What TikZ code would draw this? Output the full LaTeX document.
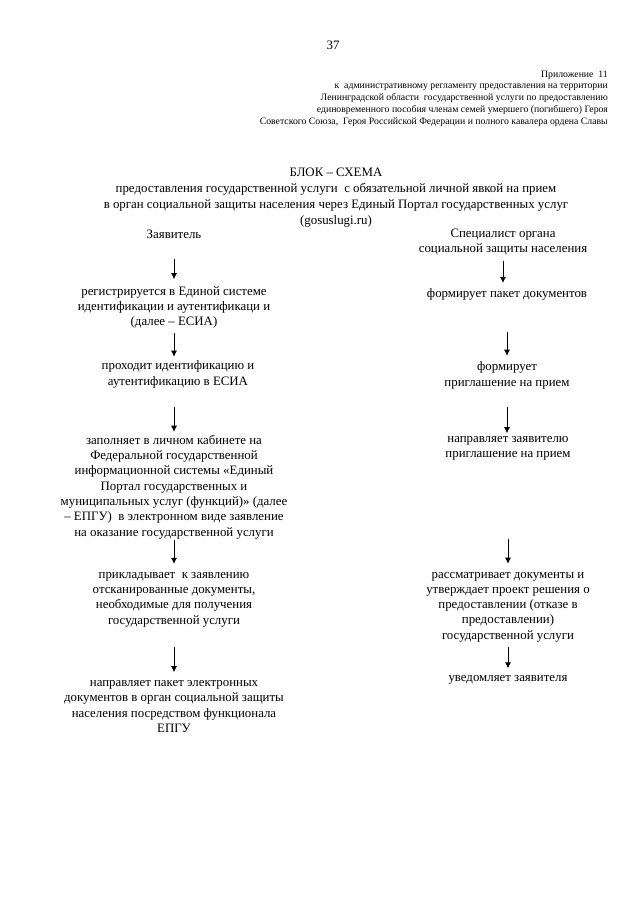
\documentclass[tikz,border=0pt]{standalone}
\usepackage{fontspec}
\setmainfont{Liberation Serif}
\usetikzlibrary{arrows.meta}
\def\px{0.328125mm}
\tikzset{
  steptext/.style={align=center,inner sep=0pt,font=\fontsize{12}{14.3}\selectfont},
  headtext/.style={align=right,inner sep=0pt,anchor=east,font=\fontsize{9.1}{10.9}\selectfont},
  flowarrow/.style={-{Latex[length=2mm,width=2mm]},line width=0.8pt}
}

\begin{document}
\begin{tikzpicture}[x=0.0328125cm,y=-0.0328125cm]
\useasboundingbox (0,0) rectangle (640,905);
\node[steptext] (pagenum) at (333,45) {37};
\node[headtext] (annex) at (608,98.5) {Приложение~ 11\\
к~ административному регламенту предоставления на территории\\
Ленинградской области~ государственной услуги по предоставлению\\
единовременного пособия членам семей умершего (погибшего) Героя\\
Советского Союза,~ Героя Российской Федерации и полного кавалера ордена Славы};
\node[steptext,font=\fontsize{12}{14.9}\selectfont] (title) at (336,198) {БЛОК – СХЕМА\\
предоставления государственной услуги~ с обязательной личной явкой на прием\\
в орган социальной защиты населения через Единый Портал государственных услуг\\
(gosuslugi.ru)};
% заявитель
\node[steptext] (zayav) at (174,234) {Заявитель};
\node[steptext] (reg) at (174,307.5) {регистрируется в Единой системе\\идентификации и аутентификаци и\\(далее – ЕСИА)};
\node[steptext] (prokh) at (178,374.5) {проходит идентификацию и\\аутентификацию в ЕСИА};
\node[steptext] (zapol) at (174,487) {заполняет в личном кабинете на\\Федеральной государственной\\информационной системы «Единый\\Портал государственных и\\муниципальных услуг (функций)» (далее\\– ЕПГУ)~ в электронном виде заявление\\на оказание государственной услуги};
\node[steptext] (prikl) at (174,599.5) {прикладывает~ к заявлению\\отсканированные документы,\\необходимые для получения\\государственной услуги};
\node[steptext] (naprl) at (174,706.5) {направляет пакет электронных\\документов в орган социальной защиты\\населения посредством функционала\\ЕПГУ};
% специалист
\node[steptext] (spec) at (503,242) {Специалист органа\\социальной защиты населения};
\node[steptext] (form1) at (507,294) {формирует пакет документов};
\node[steptext] (form2) at (507,375.5) {формирует\\приглашение на прием};
\node[steptext] (naprz) at (508,448.5) {направляет заявителю\\приглашение на прием};
\node[steptext] (rassm) at (508,607) {рассматривает документы и\\утверждает проект решения о\\предоставлении (отказе в\\предоставлении)\\государственной услуги};
\node[steptext] (uved) at (508,680) {уведомляет заявителя};
\draw[flowarrow,shorten <=20*\px,shorten >=7*\px] (zayav.south) -- (zayav.south |- reg.north);
\draw[flowarrow,shorten <=4*\px,shorten >=4*\px] (reg.south) -- (reg.south |- prokh.north);
\draw[flowarrow,shorten <=19*\px,shorten >=3*\px] (reg.south |- prokh.south) -- (reg.south |- zapol.north);
\draw[flowarrow,shorten <=1*\px,shorten >=8*\px] (zapol.south) -- (zapol.south |- prikl.north);
\draw[flowarrow,shorten <=20*\px,shorten >=8*\px] (prikl.south) -- (prikl.south |- naprl.north);
\draw[flowarrow,shorten <=6*\px,shorten >=5*\px] (spec.south) -- (spec.south |- form1.north);
\draw[flowarrow,shorten <=32*\px,shorten >=6*\px] (form1.south) -- (form1.south |- form2.north);
\draw[flowarrow,shorten <=18*\px,shorten >=3*\px] (form2.south) -- (form2.south |- naprz.north);
\draw[flowarrow,shorten <=78*\px,shorten >=8*\px] (naprz.south) -- (naprz.south |- rassm.north);
\draw[flowarrow,shorten <=5*\px,shorten >=7*\px] (rassm.south) -- (rassm.south |- uved.north);
\end{tikzpicture}
\end{document}
